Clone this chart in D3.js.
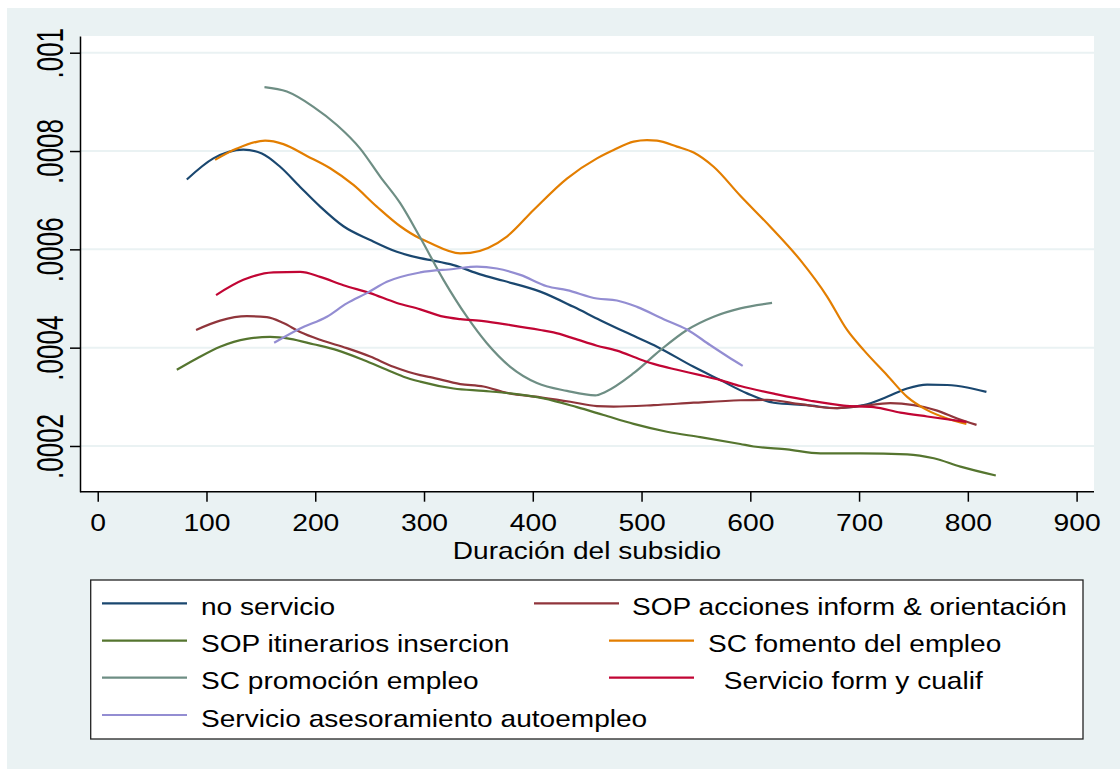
<!DOCTYPE html>
<html>
<head>
<meta charset="utf-8">
<script src="https://cdn.jsdelivr.net/npm/d3@7/dist/d3.min.js"></script>
<style>
  body { margin: 0; background: #fff; }
  svg { display: block; font-family: "Liberation Sans", Arial, sans-serif; }
</style>
</head>
<body>
<svg id="chart" width="1120" height="769"></svg>
<script>
/** Curve data: [duration, density] */
var noServicio = [[81.9,.000742],[106.3,.000785],[133.9,.000803],[150.9,.000795],[167.7,.000768],[186.1,.000727],
  [204.5,.000687],[225.9,.000647],[250.5,.000619],[275,.000595],[296.5,.000582],[308.7,.000577],[327.1,.000568],
  [351.7,.000549],[373.1,.000536],[406.9,.000514],[437.5,.000483],[462,.000456],[492.7,.000424],[514.2,.000402],
  [547.9,.000361],[572.4,.000334],[597,.000307],[621.5,.000288],[652.2,.000283],[679.8,.000277],[704.3,.000283],
  [725.8,.000300],[744.2,.000317],[762.6,.000325],[781,.000324],[799.4,.000319],[817.1,.000310]];

var sopAcciones = [[90.4,.000436],[112.5,.000455],[137.1,.000464],[155.5,.000462],[170.7,.000450],[186.1,.000432],
  [204.5,.000416],[229,.000399],[250.5,.000382],[271.9,.000361],[296.5,.000344],[305.7,.000340],[333.3,.000326],
  [354.7,.000321],[376.2,.000308],[406.9,.000299],[434.5,.000290],[459,.000281],[474.3,.000280],[511.1,.000283],
  [547.9,.000288],[590.8,.000293],[615.4,.000294],[646,.000285],[676.7,.000277],[701.2,.000281],[728.8,.000287],
  [750.3,.000283],[771.8,.000272],[790.2,.000256],[808,.000243]];

var sopItinerarios = [[72.7,.000355],[91.1,.000378],[112.5,.000402],[137.1,.000418],[158.5,.000422],[176.9,.000418],
  [198.3,.000407],[219.9,.000395],[244.3,.000375],[265.8,.000355],[281.1,.000341],[296.5,.000331],[327.1,.000317],
  [354.7,.000312],[379.3,.000307],[409.9,.000297],[440.6,.000279],[465.1,.000263],[492.7,.000245],[523.4,.000229],
  [554,.000218],[590.8,.000204],[603.1,.000199],[633.8,.000193],[664.4,.000185],[701.2,.000185],[744.2,.000183],
  [768.7,.000175],[793.2,.000158],[825.7,.000140]];

var scFomento = [[107.9,.000782],[127.9,.000805],[153.9,.000821],[170.7,.000814],[192.3,.000790],[213.7,.000765],
  [235.1,.000731],[256.6,.000687],[278.1,.000647],[296.5,.000622],[302.6,.000616],[333.3,.000592],[342.5,.000593],
  [376.2,.000626],[400.7,.000680],[431.4,.000744],[459,.000785],[474.3,.000802],[492.7,.000819],[505,.000822],
  [514.2,.000821],[532.6,.000809],[547.9,.000797],[566.3,.000768],[590.8,.000709],[618.4,.000646],[646,.000578],
  [670.6,.000504],[689,.000436],[704.3,.000395],[725.8,.000344],[744.2,.000300],[762.6,.000273],[781,.000256],
  [798.7,.000245]];

var scPromocion = [[153.3,.000930],[173.9,.000921],[198.3,.000890],[219.9,.000853],[241.3,.000805],[259.7,.000748],
  [278.1,.000694],[296.5,.000624],[317.9,.000538],[339.4,.000463],[357.8,.000409],[379.3,.000361],[403.8,.000328],
  [431.4,.000312],[457.5,.000303],[466.7,.000310],[492.7,.000348],[517.3,.000395],[541.8,.000436],[566.3,.000463],
  [590.8,.000480],[620,.000491]];

var servicioForm = [[108.8,.000507],[133.9,.000538],[161.5,.000553],[186.1,.000554],[204.5,.000544],[225.9,.000527],
  [250.5,.000511],[275,.000491],[296.5,.000478],[317.9,.000463],[333.3,.000458],[354.7,.000454],[379.3,.000446],
  [406.9,.000436],[419.1,.000431],[437.5,.000419],[459,.000404],[477.4,.000394],[498.9,.000376],[514.2,.000365],
  [532.6,.000355],[554,.000344],[572.4,.000334],[590.8,.000322],[624.6,.000305],[655.2,.000292],[685.9,.000282],
  [713.5,.000279],[738,.000268],[762.6,.000260],[798.7,.000249]];

var servicioAsesoramiento = [[162.2,.000410],[186.1,.000439],[210.7,.000463],[229,.000490],[247.4,.000511],
  [265.8,.000534],[296.5,.000553],[327.1,.000560],[348.6,.000565],[367,.000561],[388.5,.000548],[413,.000525],
  [431.4,.000517],[459,.000500],[477.4,.000496],[495.8,.000483],[520.3,.000458],[541.8,.000437],[563.2,.000405],
  [579.8,.000381],[593,.000363]];

/** Series order, labels and colours (Stata s2color) */
var seriesData = [noServicio, sopAcciones, sopItinerarios, scFomento, scPromocion, servicioForm, servicioAsesoramiento];
var seriesLabels = ["no servicio", "SOP acciones inform & orientación", "SOP itinerarios insercion",
  "SC fomento del empleo", "SC promoción empleo", " Servicio form y cualif", "Servicio asesoramiento autoempleo"];
var seriesColors = ["#1a476f", "#90353b", "#55752f", "#e37e00", "#6e8e84", "#c10534", "#938dd2"];

/** Axis ticks */
var xTicks = [0, 100, 200, 300, 400, 500, 600, 700, 800, 900];
var yTicks = [.0002, .0004, .0006, .0008, .001];
var xTitle = "Duración del subsidio";

/** Layout */
var bgColor = "#eaf2f3",
    plotLeft = 80, plotRight = 1094, plotTop = 36, plotBottom = 491.7;

var xScale = d3.scaleLinear()
    .domain([-16.3, 916])
    .range([plotLeft, plotRight]);

var yScale = d3.scaleLinear()
    .domain([.000107, .001034])
    .range([plotBottom, plotTop]);

var svg = d3.select("#chart");

// outer graph region
svg.append("rect")
  .attr("x", 7).attr("y", 8)
  .attr("width", 1113).attr("height", 761)
  .attr("fill", bgColor);

// plot region
svg.append("rect")
  .attr("x", plotLeft).attr("y", plotTop)
  .attr("width", plotRight - plotLeft).attr("height", plotBottom - plotTop)
  .attr("fill", "#fff");

// gridlines
svg.append("g").selectAll("line")
  .data(yTicks).enter().append("line")
  .attr("x1", plotLeft).attr("x2", plotRight)
  .attr("y1", function(d){ return yScale(d); })
  .attr("y2", function(d){ return yScale(d); })
  .attr("stroke", bgColor)
  .attr("stroke-width", 2);

// curves
var line = d3.line()
  .x(function(d){ return xScale(d[0]); })
  .y(function(d){ return yScale(d[1]); })
  .curve(d3.curveMonotoneX);

svg.append("g").selectAll("path")
  .data(seriesData).enter().append("path")
  .attr("d", line)
  .attr("fill", "none")
  .attr("stroke", function(d, i){ return seriesColors[i]; })
  .attr("stroke-width", 2.2)
  .attr("stroke-linejoin", "round");

// y axis
var yAxis = d3.axisLeft(yScale)
  .tickValues(yTicks)
  .tickSize(10)
  .tickSizeOuter(0)
  .tickFormat(function(d){ return d3.format(".4~f")(d).replace(/^0/, ""); });

var yG = svg.append("g")
  .attr("transform", "translate(" + plotLeft + ",0)")
  .call(yAxis);
yG.select(".domain").attr("stroke", "#000").attr("stroke-width", 1.5);
yG.selectAll(".tick line").attr("stroke", "#000").attr("stroke-width", 1.5);
yG.selectAll(".tick text")
  .attr("x", null).attr("dy", null)
  .attr("transform", "translate(-16.7,0) rotate(-90) scale(1,1.4)")
  .attr("text-anchor", "middle")
  .attr("fill", "#000")
  .style("font-size", "26px")
  .style("font-family", "'Liberation Sans', Arial, sans-serif");

// x axis
var xAxis = d3.axisBottom(xScale)
  .tickValues(xTicks)
  .tickSize(10)
  .tickSizeOuter(0);

var xG = svg.append("g")
  .attr("transform", "translate(0," + plotBottom + ")")
  .call(xAxis);
xG.select(".domain").attr("stroke", "#000").attr("stroke-width", 1.5)
  .attr("d", "M" + plotLeft + ",0H" + plotRight);
xG.selectAll(".tick line").attr("stroke", "#000").attr("stroke-width", 1.5);
xG.selectAll(".tick text")
  .attr("y", null).attr("dy", null)
  .attr("transform", "translate(0,39.5) scale(1.23,1)")
  .attr("fill", "#000")
  .style("font-size", "23px")
  .style("font-family", "'Liberation Sans', Arial, sans-serif");

// x title
svg.append("text")
  .attr("transform", "translate(" + ((plotLeft + plotRight) / 2) + ",558.5) scale(1.17,1)")
  .attr("text-anchor", "middle")
  .style("font-size", "24px")
  .text(xTitle);

/** Legend */
var legendPos = [
  {lx: 102, tx: 201, y: 603.3}, {lx: 534, tx: 632, y: 603.3},
  {lx: 102, tx: 201, y: 640.7}, {lx: 609, tx: 708, y: 640.7},
  {lx: 102, tx: 201, y: 677.7}, {lx: 609, tx: 716, y: 677.7},
  {lx: 102, tx: 201, y: 715}
];

svg.append("rect")
  .attr("x", 90.7).attr("y", 580)
  .attr("width", 1083 - 90.7).attr("height", 159)
  .attr("fill", "#fff")
  .attr("stroke", "#222")
  .attr("stroke-width", 1.3);

var items = svg.append("g").selectAll("g")
  .data(seriesLabels).enter().append("g");

items.append("line")
  .attr("x1", function(d, i){ return legendPos[i].lx; })
  .attr("x2", function(d, i){ return legendPos[i].lx + 85; })
  .attr("y1", function(d, i){ return legendPos[i].y; })
  .attr("y2", function(d, i){ return legendPos[i].y; })
  .attr("stroke", function(d, i){ return seriesColors[i]; })
  .attr("stroke-width", 2.2);

items.append("text")
  .attr("transform", function(d, i){
    return "translate(" + legendPos[i].tx + "," + (legendPos[i].y + 11.5) + ") scale(1.17,1)";
  })
  .style("font-size", "24px")
  .style("white-space", "pre")
  .attr("xml:space", "preserve")
  .text(function(d){ return d; });
</script>
</body>
</html>
